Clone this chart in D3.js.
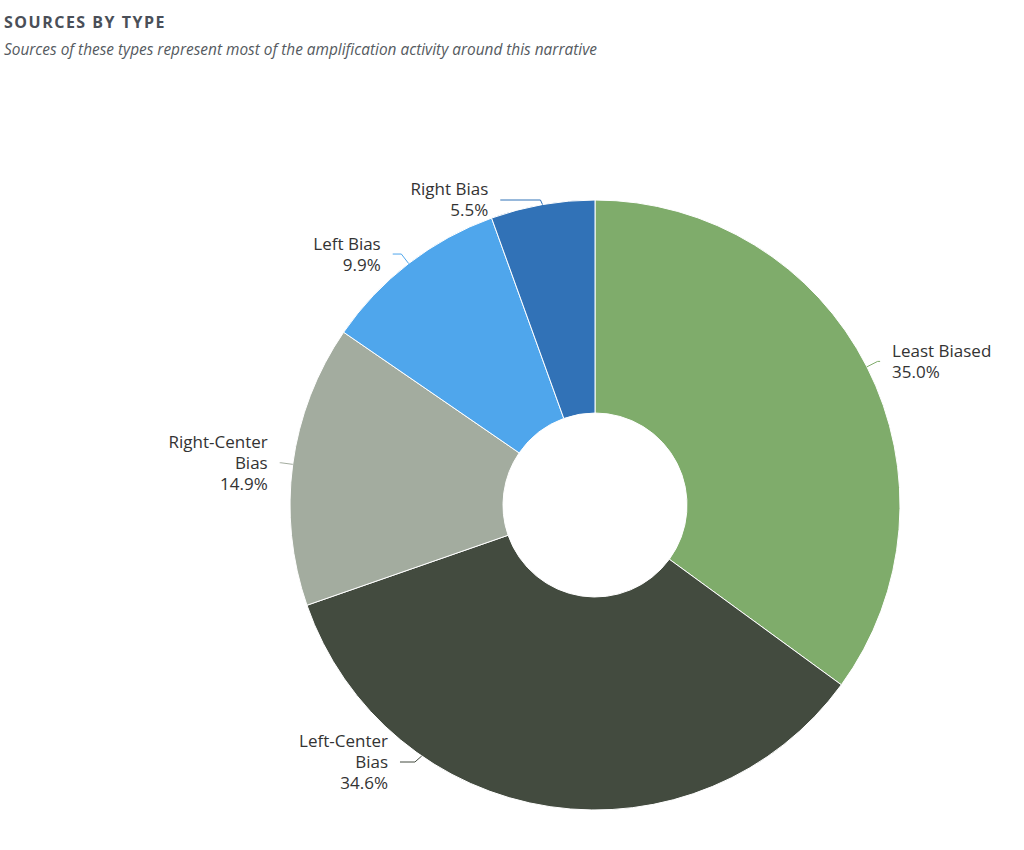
<!DOCTYPE html>
<html>
<head>
<meta charset="utf-8">
<script src="https://cdn.jsdelivr.net/npm/d3@7"></script>
<style>
    body { margin: 0; background: #fff; font-family: "Open Sans", sans-serif; }
    .title { font-size: 16px; font-weight: bold; fill: #4a4f58; letter-spacing: 1.5px; }
    .subtitle { font-size: 15.4px; font-style: italic; fill: #555a60; }
    .label { font-size: 17px; fill: #333; }
</style>
</head>
<body>
<div id="chart"></div>
<script>

// data, clockwise from 12 o'clock
var categories = ["Least Biased", "Left-Center Bias", "Right-Center Bias", "Left Bias", "Right Bias"];
var shares = [35.0, 34.6, 14.9, 9.9, 5.5];
var sliceColors = ["#7fac6b", "#434b3f", "#a3ac9f", "#4fa6ec", "#3172b7"];

var render = () => {

    var width = 1024; var height = 850;
    var cx = 595; var cy = 505;
    var outerR = 305; var innerR = 92;
    var lineHeight = 21;

    var data = categories.map((c, i) => ({name: c, value: shares[i], color: sliceColors[i]}));

    var svg = d3.select("#chart").append("svg")
        .attr("width", width)
        .attr("height", height);

    // Title
    svg.append("text")
        .attr("class", "title")
        .attr("x", 4)
        .attr("y", 28)
        .text("SOURCES BY TYPE");

    svg.append("text")
        .attr("class", "subtitle")
        .attr("x", 4)
        .attr("y", 55)
        .text("Sources of these types represent most of the amplification activity around this narrative");

    /* Pie */
    var pie = d3.pie()
        .value(d => d.value)
        .sort(null);

    var arc = d3.arc()
        .innerRadius(innerR)
        .outerRadius(outerR);

    var arcs = pie(data);

    var g = svg.append("g")
        .attr("transform", `translate(${cx}, ${cy})`);

    g.selectAll("path.slice")
        .data(arcs).enter()
        .append("path")
        .attr("class", "slice")
        .attr("d", arc)
        .style("fill", d => d.data.color)
        .style("stroke", "white")
        .style("stroke-width", 1);

    /* Labels with connectors */
    var labelR = outerR + 25;
    var yMin = -outerR, yMax = outerR - 48;

    arcs.forEach(d => {
        var mid = (d.startAngle + d.endAngle) / 2;
        var left = mid > Math.PI;
        var side = left ? -1 : 1;
        var ny = -(outerR + 12) * Math.cos(mid);
        var ly = ny, clamped = false;
        if (ly > yMax) { ly = yMax; clamped = true; }
        if (ly < yMin) { ly = yMin; }

        // x follows the label circle; bottom-clamped labels use their new y
        var xy = clamped ? ly : ny;
        var lx = side * Math.sqrt(Math.max(0, labelR * labelR - xy * xy));

        // connector start on the outer arc
        var p0;
        if (clamped) {
            var y0 = ly - 6;
            p0 = [side * Math.sqrt(outerR * outerR - y0 * y0), y0];
        } else {
            p0 = [outerR * Math.sin(mid), -outerR * Math.cos(mid)];
        }
        var ang = Math.atan2(p0[0], -p0[1]);
        var p1 = [(outerR + 12) * Math.sin(ang), ly];
        var p2 = [lx - side * 12, ly];
        var pts = (left ? p2[0] < p1[0] : p2[0] > p1[0]) ? [p0, p1, p2] : [p0, p2];

        g.append("path")
            .attr("d", d3.line()(pts))
            .style("fill", "none")
            .style("stroke", d.data.color)
            .style("stroke-width", 1);

        // wrap long names
        var name = d.data.name;
        var lines = name.length > 14
            ? [name.slice(0, name.lastIndexOf(" ")), name.slice(name.lastIndexOf(" ") + 1)]
            : [name];
        lines.push(d3.format(".1f")(d.data.value) + "%");

        var top = ly - (lines.length - 1) * lineHeight / 2;
        var t = g.append("text")
            .attr("class", "label")
            .attr("text-anchor", left ? "end" : "start");
        lines.forEach((s, i) => {
            t.append("tspan")
                .attr("x", lx)
                .attr("y", top + i * lineHeight)
                .attr("dy", "0.35em")
                .text(s);
        });
    });
};

render();
</script>
</body>
</html>
